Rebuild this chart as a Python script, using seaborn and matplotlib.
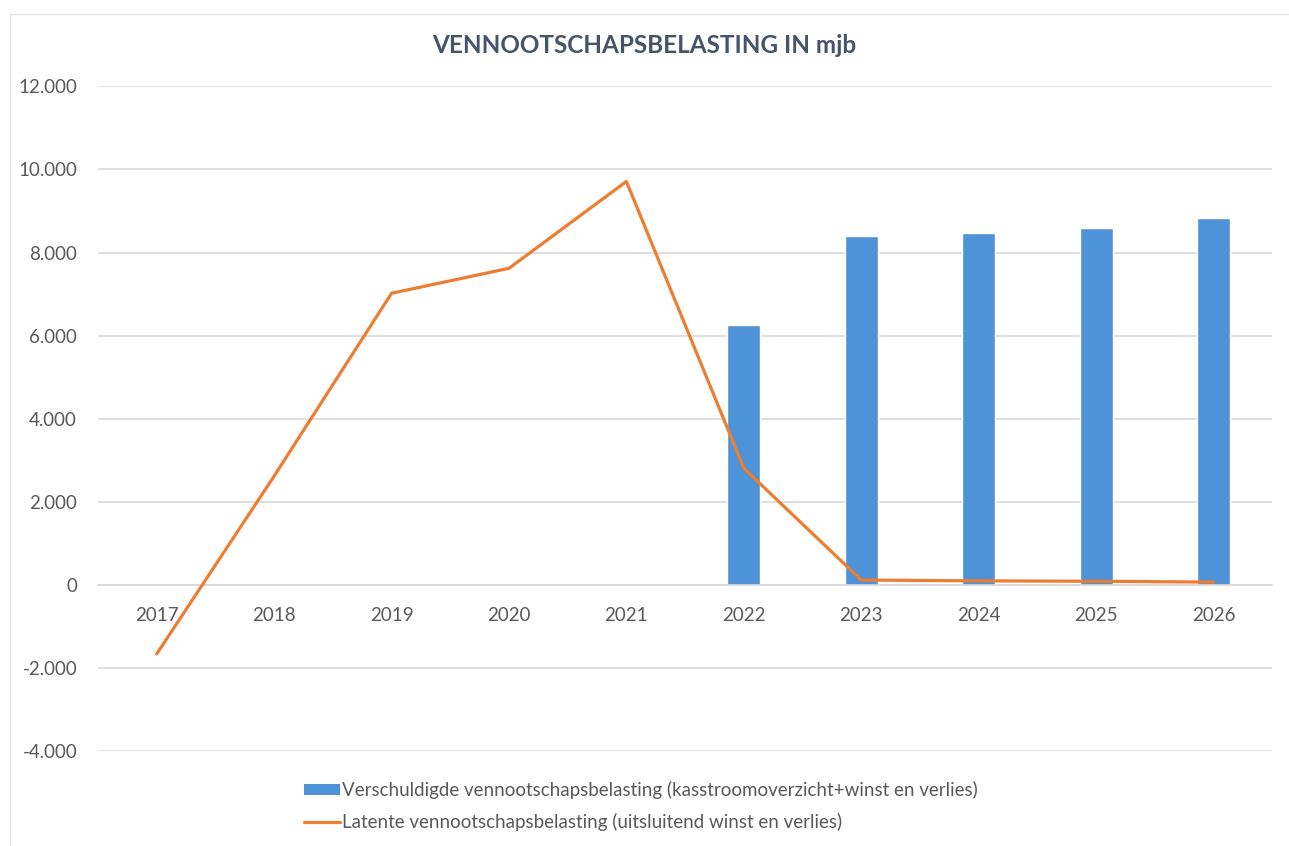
import pandas as pd
import matplotlib.pyplot as plt
import seaborn as sns
from matplotlib.lines import Line2D
from matplotlib.patches import Patch, Rectangle
from matplotlib.ticker import FuncFormatter, MultipleLocator

years = ["2017", "2018", "2019", "2020", "2021", "2022", "2023", "2024", "2025", "2026"]
bar_years = ["2022", "2023", "2024", "2025", "2026"]
verschuldigd = [6250, 8390, 8460, 8600, 8820]
latent = [-1660, 2620, 7020, 7620, 9710, 2810, 120, 100, 90, 70]

bar_label = "Verschuldigde vennootschapsbelasting (kasstroomoverzicht+winst en verlies)"
line_label = "Latente vennootschapsbelasting (uitsluitend winst en verlies)"

BLUE = "#4E93D8"
ORANGE = "#ED7D31"
GRAY = "#595959"

sns.set_theme(style="white")
plt.rcParams["font.family"] = ["Lato", "DejaVu Sans"]

bars_df = pd.DataFrame({"year": bar_years, "value": verschuldigd})
line_df = pd.DataFrame({"year": years, "value": latent})

fig = plt.figure(figsize=(12.89, 8.46), dpi=100)
ax = fig.add_axes([0.076, 0.112, 0.911, 0.786])

sns.barplot(data=bars_df, x="year", y="value", order=years, color=BLUE,
            saturation=1, width=0.28, ax=ax, zorder=2)
sns.lineplot(data=line_df, x="year", y="value", color=ORANGE, linewidth=2.3,
             ax=ax, zorder=3, sort=False)

ax.set_ylim(-4000, 12000)
ax.set_xlim(-0.5, 9.5)
ax.yaxis.set_major_locator(MultipleLocator(2000))
ax.yaxis.set_major_formatter(FuncFormatter(lambda v, p: f"{v:,.0f}".replace(",", ".")))
ax.grid(axis="y", color="#D9D9D9", linewidth=1.2, zorder=0)
ax.set_axisbelow(True)
for side in ["top", "right", "left"]:
    ax.spines[side].set_visible(False)
ax.spines["bottom"].set_position(("data", 0))
ax.spines["bottom"].set_color("#D9D9D9")
ax.spines["bottom"].set_linewidth(1.2)
ax.tick_params(axis="x", length=0, pad=16, labelsize=13.5, labelcolor=GRAY)
ax.tick_params(axis="y", length=0, pad=15, labelsize=13.5, labelcolor=GRAY)
ax.set_xlabel("")
ax.set_ylabel("")

fig.text(0.5, 0.946, "VENNOOTSCHAPSBELASTING IN mjb", ha="center", va="center",
         fontsize=17.5, fontweight="bold", color="#44546A")

handles = [Patch(facecolor=BLUE, edgecolor="none", label=bar_label),
           Line2D([0], [0], color=ORANGE, linewidth=2.3, label=line_label)]
fig.legend(handles=handles, loc="upper left", bbox_to_anchor=(0.236, 0.077),
           frameon=False, fontsize=13.5, labelcolor=GRAY, handlelength=1.9,
           handleheight=0.55, handletextpad=0.1, labelspacing=0.75,
           borderaxespad=0, borderpad=0)

fig.patches.append(Rectangle((0.008, -0.01), 1.0, 0.993, transform=fig.transFigure,
                             fill=False, edgecolor="#E3E3E3", linewidth=1.0))

plt.savefig("out.png", dpi=100)
plt.close()
